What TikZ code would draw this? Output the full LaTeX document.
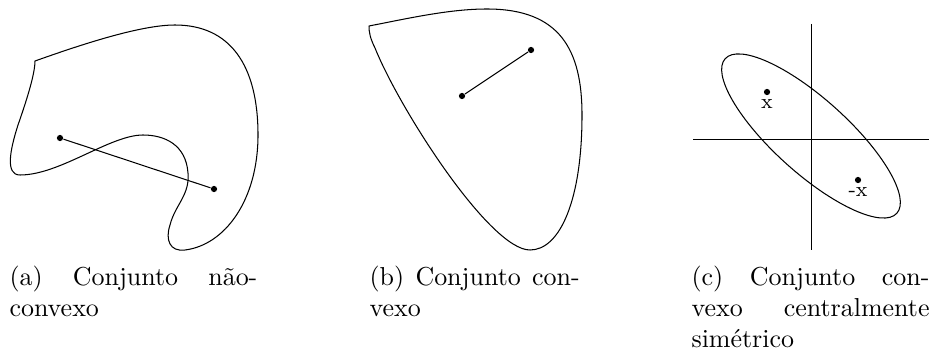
\documentclass[tikz,border=0pt]{standalone}
\usepackage{tikz}
\usetikzlibrary{positioning}
\tikzset{
  dot/.style={circle, fill=black, inner sep=0pt, minimum size=2.4pt},
  setline/.style={line width=0.4pt, line join=round},
  captext/.style={inner sep=0pt, align=justify, anchor=base west},
  lbl/.style={font=\footnotesize, inner sep=1.5pt}
}
\begin{document}
\begin{tikzpicture}[x=0.3853pt, y=-0.3853pt]
  \useasboundingbox (0,0) rectangle (931,350);

  % (a) nao-convexo
  \draw[setline] (35,61) .. controls (80,45) and (140,25) .. (175,25)
    .. controls (230,25) and (258,65) .. (258,135)
    .. controls (258,200) and (225,245) .. (185,250)
    .. controls (170,252) and (165,240) .. (170,225)
    .. controls (175,205) and (190,195) .. (188,173)
    .. controls (186,145) and (165,135) .. (143,135)
    .. controls (110,135) and (60,175) .. (20,175)
    .. controls (5,175) and (10,150) .. (18,125)
    .. controls (25,105) and (35,75) .. (35,61) -- cycle;
  \node[dot] (a1) at (60,138) {};
  \node[dot] (a2) at (214,189) {};
  \draw (a1) -- (a2);

  % (b) convexo
  \draw[setline] (369,26) .. controls (410,18) and (450,9) .. (487,9)
    .. controls (560,9) and (582,50) .. (582,115)
    .. controls (582,200) and (560,250) .. (530,250)
    .. controls (490,250) and (400,110) .. (375,48)
    .. controls (370,38) and (369,32) .. (369,26) -- cycle;
  \node[dot] (b1) at (462,96) {};
  \node[dot] (b2) at (531,50) {};
  \draw (b1) -- (b2);

  % (c) centralmente simetrico
  \coordinate (o) at (811,136);
  \coordinate (xl) at (693,139.5);
  \coordinate (xr) at (929,139.5);
  \coordinate (yt) at (811,24);
  \coordinate (yb) at (811,250);
  \draw (xl) -- (xr);
  \draw (yt) -- (yb);
  \draw[rotate around={-42:(o)}] (o) ellipse [x radius=44.5pt, y radius=14.3pt];
  \node[dot] (c1) at (767,92) {};
  \node[dot] (c2) at (858,180) {};
  \node[lbl, below=0pt of c1] (c1lbl) {x};
  \node[lbl, below=0pt of c2] (c2lbl) {-x};

  % Captions
  \node[captext, text width=95.5pt] (capa) at (9,285) {(a) Conjunto não-\linebreak convexo};
  \node[captext, text width=81pt] (capb) at (369,285) {(b) Conjunto con-\linebreak vexo};
  \node[captext, text width=91.7pt] (capc) at (691,285) {(c) Conjunto con-\linebreak vexo centralmente\linebreak simétrico};
\end{tikzpicture}
\end{document}
